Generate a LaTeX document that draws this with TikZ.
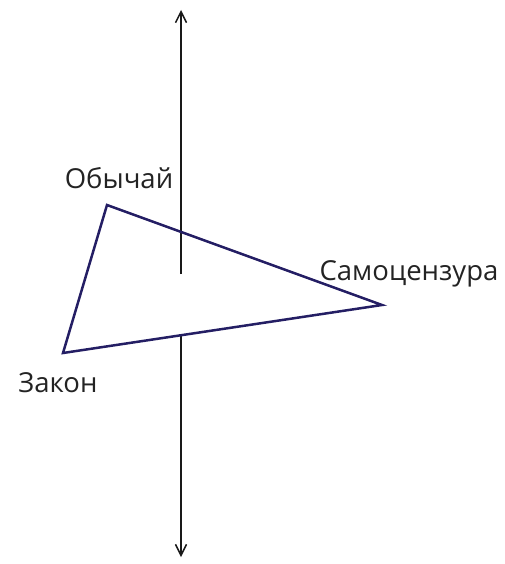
\documentclass[tikz,border=0pt]{standalone}
\usepackage{fontspec}
\setmainfont{Open Sans}
\usepackage{xcolor}
\usepackage{tikz}
\usetikzlibrary{arrows.meta}
\definecolor{triblue}{RGB}{36,30,100}
\definecolor{axisgray}{RGB}{25,25,25}
\definecolor{textgray}{RGB}{35,35,35}
\tikzset{
  axisline/.style={draw=axisgray, line width=1.5pt},
  axisarrow/.style={axisline, -{Straight Barb[length=11pt, width=11pt, line width=1.5pt]}},
  triangle/.style={draw=triblue, line width=2.5pt, line join=miter},
  label/.style={text=textgray, font=\fontsize{27.5}{32}\selectfont, inner sep=0pt, anchor=base}
}
\begin{document}
\begin{tikzpicture}[x=1pt, y=-1pt]
  \useasboundingbox (0,0) rectangle (505,564);
  % axis
  \coordinate (uptip) at (181,10);
  \coordinate (upend) at (181,274);
  \coordinate (downstart) at (181,335);
  \coordinate (downtip) at (181,557);
  \draw[axisarrow] (upend) -- (uptip);
  \draw[axisarrow] (downstart) -- (downtip);
  % triangle
  \coordinate (custom) at (107,205);
  \coordinate (censor) at (382,305);
  \coordinate (law) at (63,353);
  \draw[triangle] (custom) -- (censor) -- (law) -- cycle;
  % labels
  \node[label] (customlbl) at (119,188) {Обычай};
  \node[label] (censorlbl) at (409,280) {Самоцензура};
  \node[label] (lawlbl) at (58,392) {Закон};
\end{tikzpicture}
\end{document}
